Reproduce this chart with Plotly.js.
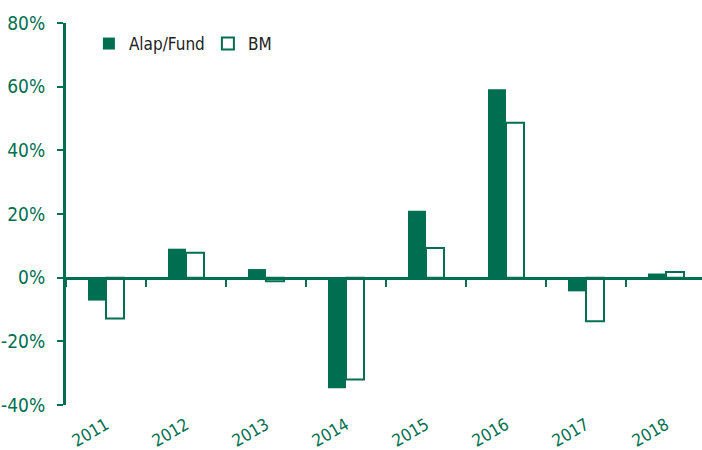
<!DOCTYPE html>
<html>
<head>
<meta charset="utf-8">
<script src="https://cdn.plot.ly/plotly-3.0.1.min.js"></script>
<style>html,body{margin:0;padding:0;background:#fff}#chart{width:702px;height:450px}</style>
</head>
<body>
<div id="chart"></div>
<script>
const years = ['2011','2012','2013','2014','2015','2016','2017','2018'];
const fundValues = [-7.2, 9.1, 2.7, -34.7, 21.0, 59.2, -4.3, 1.3];
const bmValues = [-12.8, 7.8, -1.1, -32.0, 9.3, 48.7, -13.7, 1.8];
const seriesNames = ['Alap/Fund', 'BM'];
const yTicks = [-40, -20, 0, 20, 40, 60, 80];

const green = '#006F51';
const font = '"DejaVu Sans Condensed", sans-serif';

const traces = [
  {type:'bar', x: years, y: fundValues, name: seriesNames[0],
   marker:{color: green, line:{color: green, width: 0}}, hoverinfo:'none'},
  {type:'bar', x: years, y: bmValues, name: seriesNames[1],
   marker:{color:'#ffffff', line:{color: green, width: 2}}, hoverinfo:'none'},
  {type:'scatter', x: years, y: years.map(()=>0), xaxis:'x2', mode:'none',
   showlegend:false, hoverinfo:'none'}
];

const layout = {
  width: 702, height: 450,
  margin:{l:66, r:0, t:23, b:45, pad:0},
  paper_bgcolor:'#fff', plot_bgcolor:'#fff',
  font:{family: font, color: green, size: 18},
  barmode:'group', bargap:0.55, bargroupgap:0,
  showlegend:true,
  legend:{orientation:'h', x:0.036, y:0.945, xanchor:'left', yanchor:'middle',
          font:{family: font, size:17, color:'#222'}, bgcolor:'rgba(0,0,0,0)',
          itemwidth:30, tracegroupgap:0, entrywidth:74, entrywidthmode:'pixels'},
  xaxis:{type:'category', range:[-0.5, 7.45], showline:false, showgrid:false, zeroline:false,
         ticks:'', tickangle:-30, ticklabelstandoff:6,
         tickfont:{family: font, size:17, color: green}},
  xaxis2:{type:'category', matches:'x', overlaying:'x', anchor:'free', position: 1/3,
          showline:true, linecolor: green, linewidth:3, showgrid:false, zeroline:false,
          ticks:'outside', tickson:'boundaries', ticklen:7, tickwidth:2, tickcolor: green,
          showticklabels:false},
  yaxis:{range:[-40, 80], tickvals: yTicks, ticktext: yTicks.map(v => v + '%'),
         showline:true, linecolor: green, linewidth:3, showgrid:false, zeroline:false,
         ticks:'outside', ticklen:6, tickwidth:2, tickcolor: green,
         ticklabelstandoff:8,
         tickfont:{family: font, size:19, color: green}}
};

Plotly.newPlot('chart', traces, layout, {displayModeBar:false, staticPlot:true});
</script>
</body>
</html>
